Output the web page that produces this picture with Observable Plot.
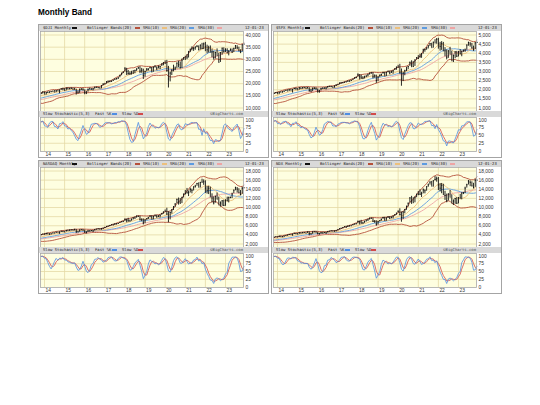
<!DOCTYPE html>
<html>
<head>
<meta charset="utf-8">
<script src="https://cdn.jsdelivr.net/npm/d3@7"></script>
<script src="https://cdn.jsdelivr.net/npm/@observablehq/plot@0.6"></script>
<style>
  html,body{margin:0;padding:0;background:#fff;}
  #page{position:relative;width:540px;height:405px;overflow:hidden;background:#fff;font-family:"Liberation Sans",Arial,sans-serif;}
  #title{position:absolute;left:38px;top:7.5px;font-size:8.2px;font-weight:bold;color:#000;line-height:10px;white-space:nowrap;}
  .panel{position:absolute;box-sizing:border-box;border:1px solid #a4a4a4;background:#fff;}
  .panel > *{position:absolute;}
  .hdr{background:#d9d9d9;overflow:hidden;}
  .hdr span{position:absolute;top:0;line-height:6px;font-size:3.9px;font-family:"DejaVu Sans Mono",monospace;color:#222;white-space:nowrap;}
  .hdr i{position:absolute;top:2px;height:2px;width:5px;}
</style>
</head>
<body>
<div id="page"><div id="title">Monthly Band</div></div>
<script>
// ---------- data ----------
const titleText = "Monthly Band";
const dateLabel = "12-01-23";
const years = [2014,2015,2016,2017,2018,2019,2020,2021,2022,2023];
const stochTicks = [0,25,50,75,100];
const djiTicks = [10000,15000,20000,25000,30000,35000,40000];
const spxTicks = [1000,1500,2000,2500,3000,3500,4000,4500,5000];
const compTicks = [2000,4000,6000,8000,10000,12000,14000,16000,18000];
const ndxTicks = [2000,4000,6000,8000,10000,12000,14000,16000,18000];

// monthly closes 2011-06 .. 2023-12
const djiClose = [12414,12143,11614,10913,11955,12046,12218,
12633,12952,13212,13214,12393,12880,13009,13091,13437,13096,13026,13104,
13861,14054,14579,14840,15116,14910,15500,14810,15130,15546,16086,16577,
15699,16322,16458,16581,16717,16827,16563,17098,17043,17391,17828,17823,
17165,18133,17776,17841,18011,17620,17690,16528,16285,17664,17720,17425,
16466,16517,17685,17774,17787,17930,18432,18401,18308,18142,19124,19763,
19864,20812,20663,20941,21009,21350,21891,21948,22405,23377,24272,24719,
26149,25029,24103,24163,24416,24271,25415,25965,26458,25116,25538,23327,
24999,25916,25929,26593,24815,26600,26864,26403,26917,27046,28051,28538,
28256,25409,21917,24346,25383,25813,26428,28430,27782,26502,29639,30606,
29983,30932,32982,33875,34529,34503,34935,35361,33844,35820,34484,36338,
35132,33893,34678,32977,32990,30775,32845,31510,28726,32733,34590,33147,
34086,32657,33274,34098,32908,34408,35560,34722,33508,33053,35951,36245];
// monthly highs / lows 2013-07 .. 2023-12
const djiHigh = [15658,15542,15710,15721,16174,16589,
16588,16398,16589,16632,16736,16978,17152,17155,17351,17395,17894,18103,
17951,18244,18289,18175,18351,18137,18128,17712,16934,17799,17978,17985,
17406,16740,17791,18168,17934,18017,18622,18668,18450,18399,19226,19988,
20125,20851,21169,21071,21112,21536,21930,22180,22420,23485,24328,24876,
26617,26306,25450,24859,25087,25402,25552,26168,26770,26952,26278,25980,
25149,26242,26156,26696,26668,26908,27399,26881,27306,27155,28175,28702,
29374,29569,27102,24765,25758,27581,26838,28503,29199,28902,30117,30637,
31272,31961,33259,34257,35091,34849,35171,35631,35510,35892,36566,36680,
36952,35824,35372,35493,34118,33272,32910,34281,32505,32760,34595,34712,
34342,34334,33573,34257,34257,34589,35679,35578,34978,33893,36025,36286];
const djiLow = [14900,14760,14777,14719,15493,15703,
15683,15340,16017,16015,16335,16656,16540,16333,16944,15855,17320,17067,
17136,17038,17585,17563,17675,17577,17399,15370,15942,16013,17319,17139,
15450,15503,16545,17484,17331,17063,17713,18247,17992,17959,17884,19150,
19677,19832,20412,20379,20553,21034,21279,21600,21709,22416,23242,24142,
24741,23360,23509,23345,23532,24077,24078,25040,25903,24123,24268,21713,
22639,24883,25209,25984,24775,24680,26574,25340,26035,25743,27036,27325,
28170,24681,18214,20735,23362,24843,25391,26290,26537,26143,26277,29578,
29857,29856,30547,32766,33473,33272,33742,34809,33613,33785,34007,34006,
33150,32272,32578,32913,30636,29653,30144,31488,28661,28715,31728,32573,
32812,32500,31429,33235,32586,32846,34069,34029,33307,32327,33052,35926];

const spxClose = [1321,1292,1219,1131,1253,1247,1258,
1312,1366,1408,1398,1310,1362,1379,1407,1441,1412,1416,1426,
1498,1515,1569,1598,1631,1606,1686,1633,1682,1757,1806,1848,
1783,1859,1872,1884,1924,1960,1931,2003,1972,2018,2068,2059,
1995,2105,2068,2086,2107,2063,2104,1972,1920,2079,2080,2044,
1940,1932,2060,2065,2097,2099,2174,2171,2168,2126,2199,2239,
2279,2364,2363,2384,2412,2423,2470,2472,2519,2575,2648,2674,
2824,2714,2641,2648,2705,2718,2816,2902,2914,2712,2760,2507,
2704,2784,2834,2946,2752,2942,2980,2926,2977,3038,3141,3231,
3226,2954,2585,2912,3044,3100,3271,3500,3363,3270,3622,3756,
3714,3811,3973,4181,4204,4298,4395,4523,4308,4605,4567,4766,
4516,4374,4530,4132,4132,3785,4130,3955,3586,3872,4080,3840,
4077,3970,4109,4169,4180,4450,4589,4508,4288,4194,4568,4595];
const spxHigh = [1698,1709,1730,1765,1813,1849,
1850,1867,1884,1897,1924,1968,1992,2006,2019,2019,2076,2094,
2065,2120,2114,2126,2135,2130,2133,2113,2021,2094,2116,2105,
2038,1962,2073,2111,2103,2121,2178,2194,2188,2170,2214,2278,
2301,2371,2401,2399,2418,2454,2484,2491,2520,2582,2657,2695,
2873,2835,2801,2718,2742,2791,2848,2917,2941,2940,2815,2800,
2708,2813,2860,2949,2955,2964,3028,3014,3022,3050,3155,3248,
3338,3394,3137,2955,3068,3233,3280,3514,3588,3550,3646,3760,
3870,3950,3983,4219,4238,4302,4422,4537,4546,4608,4744,4808,
4819,4596,4637,4594,4307,4177,4140,4325,4120,3905,4080,4101,
4095,4195,4110,4170,4231,4458,4608,4584,4541,4393,4587,4599];
const spxLow = [1605,1627,1633,1646,1746,1768,
1770,1738,1834,1815,1859,1915,1930,1905,1964,1821,2001,1973,
1988,1981,2040,2048,2067,2056,2044,1867,1872,1894,2019,1993,
1812,1810,1937,2034,2025,1992,2074,2148,2119,2114,2084,2188,
2245,2267,2322,2329,2352,2405,2407,2418,2446,2520,2566,2605,
2683,2533,2586,2553,2594,2691,2699,2803,2864,2604,2631,2347,
2444,2681,2723,2848,2750,2729,2952,2822,2891,2856,3050,3070,
3214,2855,2192,2447,2766,2999,3101,3284,3209,3234,3279,3633,
3662,3725,3723,3955,4056,4165,4233,4368,4305,4279,4560,4495,
4223,4115,4157,4125,3811,3637,3721,3954,3584,3492,3699,3764,
3795,3943,3809,4049,4048,4166,4385,4336,4238,4104,4197,4546];

const compClose = [2774,2756,2579,2415,2684,2620,2605,
2814,2967,3092,3046,2827,2935,2940,3067,3116,2977,3010,3020,
3142,3160,3268,3329,3456,3403,3626,3590,3771,3920,4060,4177,
4104,4308,4199,4115,4243,4408,4370,4580,4493,4631,4792,4736,
4635,4964,4901,4941,5070,4987,5128,4777,4620,5054,5109,5007,
4614,4558,4870,4775,4948,4843,5162,5213,5312,5189,5324,5383,
5615,5825,5912,6048,6199,6140,6348,6429,6496,6728,6874,6903,
7411,7273,7063,7066,7442,7510,7672,8110,8046,7306,7331,6635,
7282,7533,7729,8095,7453,8006,8175,7963,7999,8292,8665,8973,
9151,8567,7700,8890,9490,10059,10745,11775,11168,10912,12199,12888,
13071,13192,13247,13962,13749,14504,14673,15259,14449,15498,15538,15645,
14240,13751,14221,12335,12081,11028,12391,11816,10576,10988,11468,10466,
11585,11456,12222,12227,12935,13788,14346,14035,13219,12851,14226,14305];
const compHigh = [3627,3694,3798,3970,4069,4177,
4246,4342,4371,4283,4247,4416,4485,4580,4610,4641,4810,4814,
4777,4984,5042,5120,5112,5164,5232,5175,4828,5111,5176,5163,
5047,4698,4906,4970,4973,4985,5176,5272,5343,5342,5398,5512,
5670,5867,5929,6075,6229,6341,6460,6444,6504,6751,6914,7004,
7506,7441,7637,7257,7467,7806,7934,8134,8133,8048,7513,7486,
7323,7588,7850,8139,8176,8110,8340,8311,8243,8335,8706,9052,
9451,9838,9070,8980,9523,10221,10839,11830,12074,11965,12237,12973,
13728,14175,13620,14212,14016,14535,14864,15288,15403,15508,16212,16057,
15852,14595,14646,14470,12998,12327,12490,13181,12270,11224,11507,11571,
11690,12270,12254,12269,13136,13829,14446,14377,14115,13714,14423,14308];
const compLow = [3395,3586,3594,3761,3870,3978,
4083,3968,4154,3946,4015,4210,4366,4339,4486,4117,4567,4547,
4563,4604,4833,4843,4900,4976,4890,4292,4487,4560,4994,4899,
4313,4210,4523,4755,4712,4575,4843,5146,5146,5176,5034,5287,
5398,5603,5769,5805,6010,6080,6089,6177,6334,6497,6667,6757,
6924,6631,6805,6805,6986,7416,7464,7658,7867,7076,6878,6190,
6457,7228,7398,7735,7445,7292,8000,7662,7800,7700,8300,8540,
9040,8264,6631,7286,8554,9336,10031,10776,10519,10822,10856,12081,
12730,13003,12397,13183,13002,13618,14256,14664,14434,14283,15384,14861,
13095,12935,12834,12303,11036,10565,10940,11787,10574,10089,10262,10207,
10265,11350,11006,11925,11963,13031,13663,13161,13100,12544,12896,14152];

const ndxClose = [2284,2312,2223,2126,2325,2271,2278,
2448,2627,2755,2717,2521,2616,2640,2768,2799,2655,2677,2660,
2732,2738,2819,2846,2981,2910,3078,3074,3218,3358,3486,3592,
3514,3700,3596,3585,3736,3850,3892,4082,4050,4158,4336,4236,
4152,4444,4334,4415,4508,4397,4588,4274,4181,4648,4665,4593,
4280,4201,4484,4341,4524,4418,4730,4771,4875,4801,4810,4864,
5117,5331,5436,5584,5788,5647,5880,5988,5979,6248,6365,6396,
6950,6854,6581,6605,6968,7040,7272,7660,7627,6967,6949,6330,
6907,7103,7378,7781,7127,7671,7848,7692,7749,8083,8403,8733,
9151,8462,7813,9000,9556,10157,10906,12111,11418,11052,12268,12888,
12925,12909,13091,13860,13687,14554,14960,15583,14689,15850,16135,16320,
14930,14237,14838,12855,12643,11504,12947,12272,10971,11406,11951,10940,
12102,12042,13181,13246,14254,14989,15758,15501,14715,14410,15947,15990];
const ndxHigh = [3080,3134,3250,3380,3495,3593,
3622,3718,3738,3641,3738,3860,3990,4082,4120,4165,4345,4330,
4305,4466,4480,4540,4550,4555,4690,4665,4350,4700,4720,4715,
4590,4340,4510,4580,4545,4560,4745,4820,4910,4920,4890,4965,
5150,5370,5455,5615,5800,5895,5980,6010,6000,6260,6380,6480,
7022,7010,7184,6780,6990,7283,7460,7680,7700,7630,7140,7080,
6950,7160,7490,7820,7850,7770,8025,8000,7970,8120,8440,8780,
9260,9720,9000,9080,9580,10320,11000,12150,12440,12160,12330,12920,
13500,13880,13340,14060,13880,14570,15140,15610,15700,15870,16765,16660,
16570,15240,15270,15090,13550,12930,13020,13720,12790,11670,12010,12170,
12190,12870,13210,13300,14450,15090,15930,15810,15620,15300,16165,16000];
const ndxLow = [2904,3065,3070,3202,3320,3412,
3502,3400,3550,3412,3490,3710,3836,3858,4010,3700,4112,4080,
4090,4125,4300,4300,4365,4390,4340,3787,4030,4130,4550,4480,
3990,3980,4150,4330,4290,4150,4410,4700,4705,4780,4600,4750,
4870,5110,5300,5360,5570,5545,5620,5720,5855,5980,6140,6270,
6420,6165,6380,6300,6520,6930,7000,7240,7440,6720,6530,5900,
6150,6850,7000,7400,7110,6980,7660,7380,7550,7510,8060,8300,
8790,8150,6770,7380,8630,9390,10100,10950,10680,11000,11030,12150,
12580,12640,12200,13000,12990,13570,14440,14920,14670,14460,15800,15550,
13720,13410,13020,12820,11550,11040,11430,12260,10970,10440,10690,10670,
10790,11930,11690,12830,13050,14260,14930,14560,14560,14060,14420,15820];

const panels = [
  {x0:38,  y0:24,  name:"$DJI Monthly",   close:djiClose,  high:djiHigh,  low:djiLow,  ticks:djiTicks},
  {x0:271, y0:24,  name:"$SPX Monthly",   close:spxClose,  high:spxHigh,  low:spxLow,  ticks:spxTicks},
  {x0:38,  y0:160, name:"NASDAQ Monthly", close:compClose, high:compHigh, low:compLow, ticks:compTicks},
  {x0:271, y0:160, name:"NDX Monthly",    close:ndxClose,  high:ndxHigh,  low:ndxLow,  ticks:ndxTicks}
];

// ---------- style ----------
const FONT = "Liberation Sans, Arial, sans-serif";
const BG = "#fefee0", GRID = "#e4d9a6", FRAME = "#a8a8a8";
const BAR = "#111", BBC = "#b5503a", S10 = "#ecc07c", S20 = "#5d9be0", S30 = "#eea4a4";
const KBLUE = "#4f8ee2", DRED = "#d24a4a";
const PW = 231, PH = 134;

// ---------- helpers ----------
const months = d3.utcMonth.range(new Date(Date.UTC(2011,5,1)), new Date(Date.UTC(2024,0,1)));
const HL0 = 25; // index of 2013-07 in months
const SHOW = 4; // first displayed bar (2013-11) within HL rows
const yearTicks = years.map(y => new Date(Date.UTC(y,0,1)));
const xScale = {type:"utc", domain:[yearTicks[0], yearTicks[yearTicks.length-1]], range:[5,186]};
const page = document.getElementById("page");
document.getElementById("title").textContent = titleText;

function header(parent, top, items) {
  const h = document.createElement("div");
  h.className = "hdr";
  Object.assign(h.style, {left:"0px", top:top+"px", width:(PW-2)+"px", height:"6px"});
  for (const it of items) {
    if (it.t !== undefined) {
      const s = document.createElement("span");
      s.textContent = it.t;
      if (it.right !== undefined) s.style.right = it.right + "px"; else s.style.left = (it.x-1) + "px";
      if (it.c) s.style.color = it.c;
      h.appendChild(s);
    } else {
      const b = document.createElement("i");
      b.style.left = (it.x-1) + "px";
      b.style.background = it.sw;
      h.appendChild(b);
    }
  }
  parent.appendChild(h);
}

function buildPanel(p) {
  const el = document.createElement("div");
  el.className = "panel";
  Object.assign(el.style, {left:p.x0+"px", top:p.y0+"px", width:PW+"px", height:PH+"px"});
  page.appendChild(el);

  const closeRows = months.map((date,i) => ({date, close:p.close[i]}));
  const bb = closeRows.map((d,i) => {
    if (i < 19) return {date:d.date, up:NaN, lo:NaN};
    const w = p.close.slice(i-19, i+1);
    const m = d3.mean(w);
    const sd = Math.sqrt(d3.mean(w, v => (v-m)*(v-m)));
    return {date:d.date, up:m+2*sd, lo:m-2*sd};
  }).filter(d => d.date >= months[HL0+SHOW]);
  const hl = p.high.map((h,i) => ({date:months[HL0+i], high:h, low:p.low[i], close:p.close[HL0+i]}));
  const fastK = hl.map((d,i) => {
    if (i < 4) return NaN;
    const LL = d3.min(hl.slice(i-4,i+1), r => r.low), HH = d3.max(hl.slice(i-4,i+1), r => r.high);
    return 100*(d.close-LL)/(HH-LL);
  });
  const sma = (a,k) => a.map((_,i) => i < k-1 ? NaN : d3.mean(a.slice(i-k+1,i+1)));
  const slowK = sma(fastK,3), slowD = sma(slowK,3);
  const stoch = hl.map((d,i) => ({date:d.date, k:slowK[i], d:slowD[i]})).slice(SHOW);
  const bars = hl.slice(SHOW);

  header(el, 0, [
    {x:5, t:p.name}, {x:34, sw:BAR},
    {x:49, t:"Bollinger Bands(20)"}, {x:97, sw:BBC},
    {x:105, t:"SMA(10)"}, {x:124, sw:S10},
    {x:132, t:"SMA(20)"}, {x:151, sw:S20},
    {x:160, t:"SMA(30)"}, {x:179, sw:S30},
    {x:PW-24, t:dateLabel}
  ]);

  const style = {background:"transparent", fontFamily:FONT, fontSize:"4.9px", overflow:"visible"};
  const main = Plot.plot({
    width:PW-2, height:80, marginLeft:1, marginRight:25, marginTop:0, marginBottom:0,
    style,
    x:{...xScale, axis:null},
    y:{domain:d3.extent(p.ticks), range:[76.5,3.5]},
    marks:[
      Plot.frame({fill:BG, stroke:"none"}),
      Plot.gridX(yearTicks, {stroke:GRID, strokeOpacity:1, strokeWidth:0.8}),
      Plot.gridY(p.ticks, {stroke:GRID, strokeOpacity:1, strokeWidth:0.8}),
      Plot.axisY(p.ticks, {anchor:"right", tickSize:0, tickPadding:2, tickFormat:d3.format(","), label:null, fill:"#333", fontSize:4.9}),
      Plot.line(bb, {x:"date", y:"up", stroke:BBC, strokeWidth:0.9}),
      Plot.line(bb, {x:"date", y:"lo", stroke:BBC, strokeWidth:0.9}),
      Plot.lineY(closeRows, Plot.windowY({k:30, anchor:"end"}, {x:"date", y:"close", stroke:S30, strokeWidth:0.9, clip:true})),
      Plot.lineY(closeRows, Plot.windowY({k:20, anchor:"end"}, {x:"date", y:"close", stroke:S20, strokeWidth:0.9, clip:true})),
      Plot.lineY(closeRows, Plot.windowY({k:10, anchor:"end"}, {x:"date", y:"close", stroke:S10, strokeWidth:0.9, clip:true})),
      Plot.ruleX(bars, {x:"date", y1:"low", y2:"high", stroke:BAR, strokeWidth:0.9}),
      Plot.ruleY(bars, {y:"close", x1:"date", x2:d => d3.utcDay.offset(d.date, 22), stroke:BAR, strokeWidth:0.8}),
      Plot.frame({stroke:FRAME, strokeWidth:0.8})
    ]
  });
  Object.assign(main.style, {left:"0px", top:"6px"});
  el.appendChild(main);

  header(el, 86, [
    {x:5, t:"Slow Stochastic(5,3)"},
    {x:57, t:"Fast %K"}, {x:74, sw:KBLUE},
    {x:84, t:"Slow %D"}, {x:100, sw:DRED},
    {right:25, t:"©BigCharts.com", c:"#555"}
  ]);

  const st = Plot.plot({
    width:PW-2, height:40, marginLeft:1, marginRight:25, marginTop:0, marginBottom:6,
    style,
    x:{...xScale},
    y:{domain:[0,100], range:[33.5,2.5]},
    marks:[
      Plot.frame({fill:BG, stroke:"none"}),
      Plot.gridX(yearTicks, {stroke:GRID, strokeOpacity:1, strokeWidth:0.8}),
      Plot.gridY([25,50,75], {stroke:GRID, strokeOpacity:1, strokeWidth:0.8}),
      Plot.axisY(stochTicks, {anchor:"right", tickSize:0, tickPadding:2, label:null, fill:"#333", fontSize:4.9}),
      Plot.axisX(yearTicks, {anchor:"bottom", tickSize:0, tickPadding:1, tickFormat:d3.utcFormat("%y"), textAnchor:"start", dx:1, label:null, fill:"#333", fontSize:4.9}),
      Plot.line(stoch, {x:"date", y:"d", stroke:DRED, strokeWidth:0.8}),
      Plot.line(stoch, {x:"date", y:"k", stroke:KBLUE, strokeWidth:0.8}),
      Plot.frame({stroke:FRAME, strokeWidth:0.8})
    ]
  });
  Object.assign(st.style, {left:"0px", top:"92px"});
  el.appendChild(st);
}

panels.forEach(buildPanel);
</script>
</body>
</html>
